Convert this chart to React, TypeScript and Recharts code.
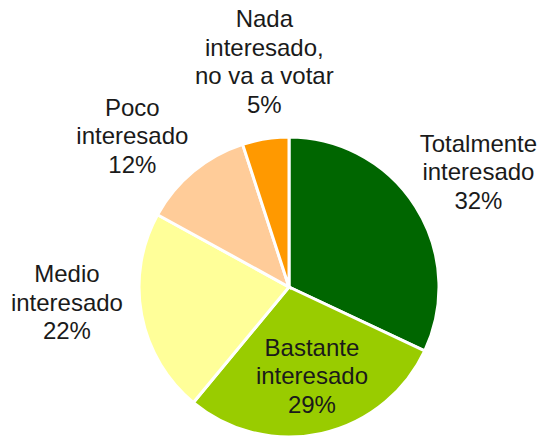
import { PieChart, Pie, Cell } from 'recharts';

const categories = [
    ['Totalmente', 'interesado'],
    ['Bastante', 'interesado'],
    ['Medio', 'interesado'],
    ['Poco', 'interesado'],
    ['Nada', 'interesado,', 'no va a votar'],
];
const shares = [32, 29, 22, 12, 5];

const colors = ['#006600', '#99CC00', '#FFFF99', '#FFCC99', '#FF9900'];
// label distance (x outer radius) and small nudges, per slice
const labelRadius = [1.48, 0.61, 1.48, 1.45, 1.52];
const labelNudge = [[2, 3], [3, -1], [-4, -27], [-18, 16], [11, -1]];

const data = shares.map((v, i) => ({ name: categories[i].join(' '), value: v }));

const RAD = Math.PI / 180;
const LINE = 28.5;

function renderLabel(props: any) {
    const { cx, cy, midAngle, outerRadius, index } = props;
    const r = outerRadius * labelRadius[index];
    const x = cx + r * Math.cos(-midAngle * RAD) + labelNudge[index][0];
    const y = cy + r * Math.sin(-midAngle * RAD) + labelNudge[index][1];
    const lines = [...categories[index], `${shares[index]}%`];
    const top = y - ((lines.length - 1) * LINE) / 2;
    return (
        <text x={x} y={top} textAnchor="middle" dominantBaseline="central"
            fill="#1a1a1a" fontSize={24} fontFamily="'Liberation Sans', Arial, sans-serif">
            {lines.map((l, i) => (
                <tspan key={i} x={x} y={top + i * LINE}>{l}</tspan>
            ))}
        </text>
    );
}

export default function App() {
    return (
        <div style={{ position: 'absolute', left: 0, top: 0, width: 540, height: 439, background: '#fff' }}>
            <PieChart width={540} height={439} margin={{ top: 0, right: 0, bottom: 0, left: 0 }}>
                <Pie data={data} dataKey="value" cx={289} cy={287} outerRadius={150}
                    startAngle={90} endAngle={-270} stroke="#fff" strokeWidth={3}
                    label={renderLabel} labelLine={false} isAnimationActive={false}>
                    {data.map((d, i) => <Cell key={d.name} fill={colors[i]} />)}
                </Pie>
            </PieChart>
        </div>
    );
}
